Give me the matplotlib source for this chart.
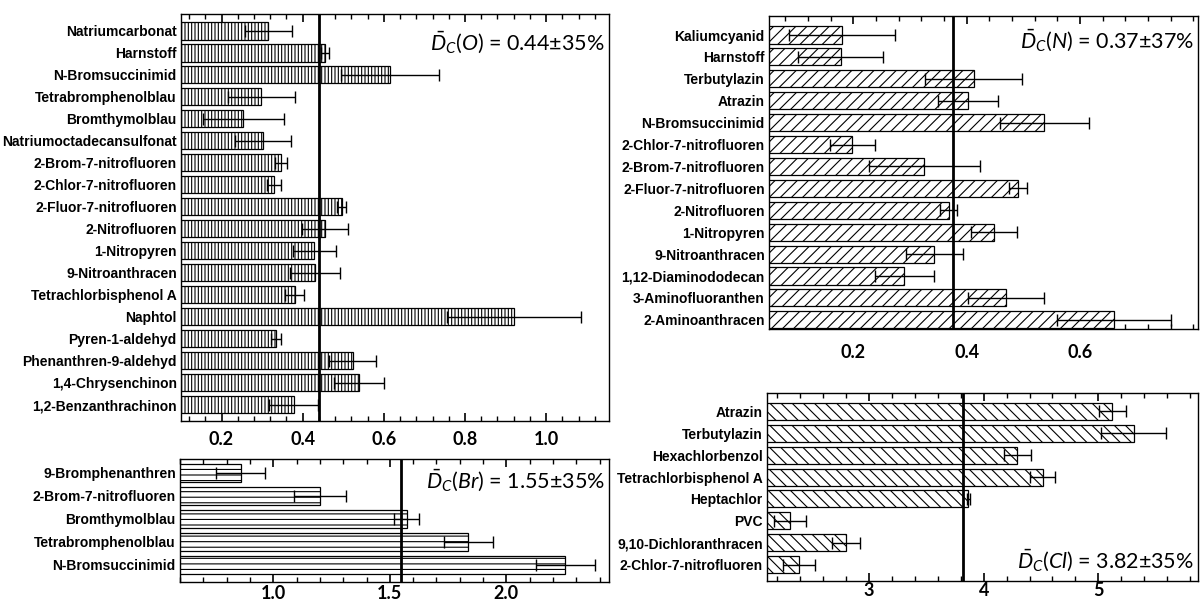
import matplotlib
matplotlib.use("Agg")
import matplotlib.pyplot as plt
from matplotlib.ticker import MultipleLocator, FixedLocator

plt.rcParams['hatch.linewidth'] = 0.8
plt.rcParams['mathtext.fontset'] = 'custom'
plt.rcParams['mathtext.it'] = 'Lato:italic'
plt.rcParams['mathtext.rm'] = 'Lato'

LABEL_FONT = ['Liberation Sans', 'DejaVu Sans']

# --- data ---
o_names = ['Natriumcarbonat', 'Harnstoff', 'N-Bromsuccinimid', 'Tetrabromphenolblau',
           'Bromthymolblau', 'Natriumoctadecansulfonat', '2-Brom-7-nitrofluoren',
           '2-Chlor-7-nitrofluoren', '2-Fluor-7-nitrofluoren', '2-Nitrofluoren',
           '1-Nitropyren', '9-Nitroanthracen', 'Tetrachlorbisphenol A', 'Naphtol',
           'Pyren-1-aldehyd', 'Phenanthren-9-aldehyd', '1,4-Chrysenchinon',
           '1,2-Benzanthrachinon']
o_vals = [0.315, 0.455, 0.615, 0.298, 0.254, 0.302, 0.347, 0.329, 0.496, 0.455,
          0.429, 0.431, 0.380, 0.920, 0.335, 0.523, 0.538, 0.378]
o_err = [0.058, 0.010, 0.120, 0.083, 0.100, 0.070, 0.015, 0.018, 0.011, 0.057,
         0.053, 0.062, 0.023, 0.165, 0.012, 0.058, 0.062, 0.060]
o_mean = 0.44
o_ticks = [0.2, 0.4, 0.6, 0.8, 1.0]

br_names = ['9-Bromphenanthren', '2-Brom-7-nitrofluoren', 'Bromthymolblau',
            'Tetrabromphenolblau', 'N-Bromsuccinimid']
br_vals = [0.860, 1.200, 1.572, 1.837, 2.252]
br_err = [0.105, 0.113, 0.054, 0.105, 0.127]
br_mean = 1.55
br_ticks = [1.0, 1.5, 2.0]

n_names = ['Kaliumcyanid', 'Harnstoff', 'Terbutylazin', 'Atrazin', 'N-Bromsuccinimid',
           '2-Chlor-7-nitrofluoren', '2-Brom-7-nitrofluoren', '2-Fluor-7-nitrofluoren',
           '2-Nitrofluoren', '1-Nitropyren', '9-Nitroanthracen', '1,12-Diaminododecan',
           '3-Aminofluoranthen', '2-Aminoanthracen']
n_vals = [0.180, 0.178, 0.412, 0.402, 0.537, 0.198, 0.325, 0.491, 0.368, 0.448,
          0.343, 0.290, 0.469, 0.660]
n_err = [0.093, 0.075, 0.085, 0.053, 0.079, 0.040, 0.098, 0.016, 0.015, 0.040,
         0.051, 0.052, 0.067, 0.100]
n_mean = 0.375
n_ticks = [0.2, 0.4, 0.6]

cl_names = ['Atrazin', 'Terbutylazin', 'Hexachlorbenzol', 'Tetrachlorbisphenol A',
            'Heptachlor', 'PVC', '9,10-Dichloranthracen', '2-Chlor-7-nitrofluoren']
cl_vals = [5.123, 5.307, 4.294, 4.516, 3.867, 2.312, 2.797, 2.389]
cl_err = [0.120, 0.287, 0.117, 0.110, 0.015, 0.140, 0.123, 0.140]
cl_mean = 3.82
cl_ticks = [3, 4, 5]


def panel(ax, names, vals, err, mean, hatch, xlim, ylim, ticks, minor, fmt,
          text, tx, ty, va, pad):
    y = list(range(len(names)))
    ax.barh(y, vals, height=0.78, color='white', edgecolor='black', linewidth=0.9,
            hatch=hatch, zorder=2)
    ax.errorbar(vals, y, xerr=err, fmt='none', ecolor='black', elinewidth=1.0,
                capsize=4.5, capthick=1.0, zorder=3)
    ax.axvline(mean, color='black', linewidth=2.0, zorder=4)
    ax.set_xlim(*xlim)
    ax.set_ylim(*ylim)
    ax.set_yticks(y)
    ax.set_yticklabels(names, family=LABEL_FONT, fontweight='bold', fontsize=10)
    ax.tick_params(axis='y', length=0, pad=3)
    ax.xaxis.set_major_locator(FixedLocator(ticks))
    ax.xaxis.set_minor_locator(MultipleLocator(minor))
    ax.xaxis.set_major_formatter(fmt)
    ax.tick_params(axis='x', which='both', direction='in', top=True, bottom=True)
    ax.tick_params(axis='x', which='major', length=6, width=1.2, pad=pad, labelsize=13)
    ax.tick_params(axis='x', which='minor', length=3.5, width=1.0)
    for lab in ax.get_xticklabels():
        lab.set_family('Lato')
        lab.set_fontweight('bold')
    for s in ax.spines.values():
        s.set_linewidth(1.0)
    ax.text(tx, ty, text, transform=ax.transAxes, ha='right', va=va, fontsize=15.5,
            family='Lato', zorder=5)


fig = plt.figure(figsize=(12, 6.05), dpi=100)

ax_o = fig.add_axes([0.1508, 0.3041, 0.3567, 0.6727])
panel(ax_o, o_names, o_vals, o_err, o_mean, '|||||', (0.1, 1.155),
      (17.75, -0.77), o_ticks, 0.04, '{x:.1f}',
      r'$\bar{D}_C(O)$ = 0.44$\pm$35%', 0.99, 0.963, 'top', 7)

ax_br = fig.add_axes([0.15, 0.038, 0.3575, 0.2033])
panel(ax_br, br_names, br_vals, br_err, br_mean, '---', (0.6, 2.44),
      (4.74, -0.6), br_ticks, 0.1, '{x:.1f}',
      r'$\bar{D}_C(Br)$ = 1.55$\pm$35%', 0.99, 0.93, 'top', 2)

ax_n = fig.add_axes([0.6408, 0.4562, 0.3575, 0.5174])
panel(ax_n, n_names, n_vals, n_err, n_mean, '///', (0.051, 0.808),
      (13.42, -0.87), n_ticks, 0.04, '{x:.1f}',
      r'$\bar{D}_C(N)$ = 0.37$\pm$37%', 0.99, 0.965, 'top', 11)

ax_cl = fig.add_axes([0.6392, 0.0397, 0.3592, 0.3107])
panel(ax_cl, cl_names, cl_vals, cl_err, cl_mean, '\\\\\\', (2.11, 5.87),
      (7.75, -0.84), cl_ticks, 0.2, '{x:.0f}',
      r'$\bar{D}_C(Cl)$ = 3.82$\pm$35%', 0.99, 0.04, 'bottom', 1)

fig.savefig('out.png', dpi=100)
